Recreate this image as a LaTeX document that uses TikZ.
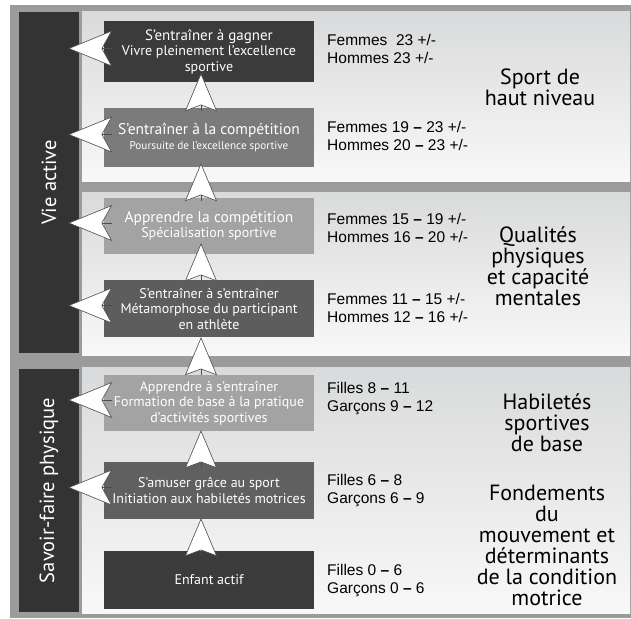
\documentclass[tikz,border=0pt]{standalone}
\usepackage{fontspec}
\setmainfont{PT Sans}
\newfontfamily\agefont{Liberation Sans}
\usetikzlibrary{arrows.meta}
\definecolor{framegray}{HTML}{9B9B9B}
\definecolor{bardark}{HTML}{333333}
\definecolor{paneltop}{HTML}{D9DADB}
\definecolor{panelbot}{HTML}{F8F8F8}
\definecolor{stageA}{HTML}{3B3B3B}
\definecolor{stageB}{HTML}{7B7B7B}
\definecolor{stageC}{HTML}{A3A3A3}
\definecolor{stageD}{HTML}{5D5D5D}
\definecolor{stageE}{HTML}{606060}
\begin{document}
\begin{tikzpicture}[
  x=1pt, y=-1pt,
  panel/.style={top color=paneltop, bottom color=panelbot},
  bar/.style={fill=bardark, minimum width=60pt, inner sep=0pt},
  bartext/.style={rotate=90, text=white, font=\fontsize{20.5}{22}\selectfont},
  stage/.style={minimum width=210pt, inner sep=0pt, align=center, text=white,
    font=\fontsize{14}{15.5}\selectfont},
  age/.style={anchor=west, align=left, inner sep=0pt, font=\agefont\fontsize{15.5}{18}\selectfont},
  level/.style={align=center, inner sep=0pt, font=\fontsize{22}{21}\selectfont},
  uparrow/.style={draw=black!70, line width=0.6pt,
    -{Stealth[length=38pt, width=32pt, inset=6pt, fill=white]}},
  leftarrow/.style={draw=black!70, line width=0.6pt,
    -{Stealth[length=44pt, width=36pt, inset=10pt, fill=white]}}
  ]
  \useasboundingbox (0,0) rectangle (631,618);
  % frame and the three bands
  \fill[framegray] (10,5) rectangle (631,618);
  \shade[panel] (82,12) rectangle (630,181);
  \shade[panel] (82,192) rectangle (630,355);
  \shade[panel] (82,367) rectangle (630,613);

  % side bars
  \node[bar, minimum height=341pt] (vie) at (49,182.5) {};
  \node[bar, minimum height=243pt] (savoir) at (49,490.5) {};
  \node[bartext] (vielabel) at (vie) {Vie active};
  \node[bartext] (savoirlabel) at (savoir) {Savoir-faire physique};

  % stages
  \node[stage, fill=stageA, minimum height=61pt] (b1) at (209,51.5)
    {{\fontsize{15}{16}\selectfont S’entraîner à gagner}\\Vivre pleinement l’excellence\\sportive};
  \node[stage, fill=stageB, minimum height=59pt] (b2) at (209,137.5)
    {{\fontsize{15.5}{16}\selectfont S’entraîner à la compétition}\\{\fontsize{11.2}{13}\selectfont Poursuite de l’excellence sportive}};
  \node[stage, fill=stageC, minimum height=56pt] (b3) at (209,226)
    {{\fontsize{15.5}{16}\selectfont Apprendre la compétition}\\Spécialisation sportive};
  \node[stage, fill=stageD, minimum height=57pt] (b4) at (209,308.5)
    {S’entraîner à s’entraîner\\Métamorphose du participant\\en athlète};
  \node[stage, fill=stageC, minimum height=56pt] (b5) at (209,403)
    {Apprendre à s’entraîner\\Formation de base à la pratique\\d’activités sportives};
  \node[stage, fill=stageE, minimum height=57pt] (b6) at (209,490.5)
    {S’amuser grâce au sport\\Initiation aux habiletés motrices};
  \node[stage, fill=stageA, minimum height=58pt] (b7) at (209,580)
    {Enfant actif};

  % arrows up the ladder
  \foreach \lo/\hi/\s/\t in {b2/b1/3/9, b3/b2/3/4, b4/b3/1/11, b5/b4/0/0, b6/b5/6/1, b7/b6/5/1}
    \draw[uparrow] ([xshift=-8pt,yshift=-\s pt]\lo.north) -- ([xshift=-8pt,yshift=\t pt]\hi.south);

  % arrows to the side bars
  \foreach \b/\side in {b1/vie, b2/vie, b3/vie, b4/vie, b5/savoir, b6/savoir}
    \draw[leftarrow] ([xshift=8pt,yshift=3pt]\b.west) -- ([xshift=-11pt,yshift=3pt]\b.west -| \side.east);

  % ages
  \node[age] (a1) at (327,49) {Femmes~ 23 +/-\\Hommes 23 +/-};
  \node[age] (a2) at (327,135.5) {Femmes 19 {\bfseries –} 23 +/-\\Hommes 20 {\bfseries –} 23 +/-};
  \node[age] (a3) at (327,227.5) {Femmes 15 {\bfseries –} 19 +/-\\Hommes 16 {\bfseries –} 20 +/-};
  \node[age] (a4) at (327,307.5) {Femmes 11 {\bfseries –} 15 +/-\\Hommes 12 {\bfseries –} 16 +/-};
  \node[age] (a5) at (327,399) {Filles 8 {\bfseries –} 11\\Garçons 9 {\bfseries –} 12};
  \node[age] (a6) at (327,490.5) {Filles 6 {\bfseries –} 8\\Garçons 6 {\bfseries –} 9};
  \node[age] (a7) at (327,581) {Filles 0 {\bfseries –} 6\\Garçons 0 {\bfseries –} 6};

  % levels
  \node[level] (c1) at (540,87) {Sport de\\haut niveau};
  \node[level] (c2) at (538,266) {Qualités\\physiques\\et capacité\\mentales};
  \node[level] (c3) at (547,423) {Habiletés\\sportives\\de base};
  \node[level] (c4) at (547,545) {Fondements\\du\\mouvement et\\déterminants\\de la condition\\motrice};
\end{tikzpicture}
\end{document}
